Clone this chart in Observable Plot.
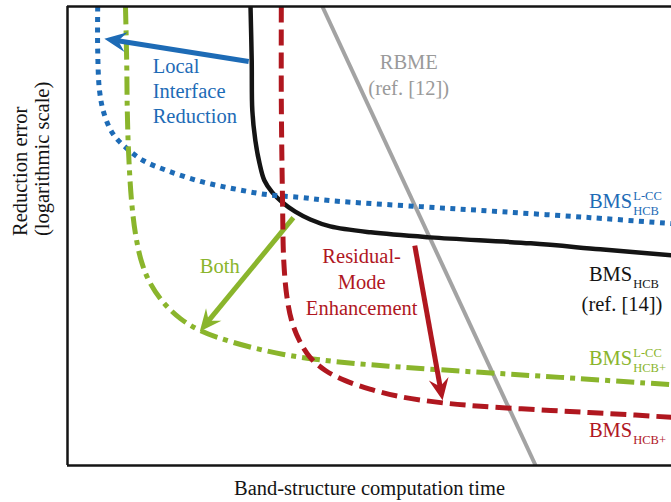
<!DOCTYPE html>
<html>
<head>
<meta charset="utf-8">
<script src="https://cdn.jsdelivr.net/npm/d3@7"></script>
<script src="https://cdn.jsdelivr.net/npm/@observablehq/plot@0.6"></script>
<style>
  html, body { margin: 0; padding: 0; background: #fff; }
  #chart svg { display: block; }
  #chart svg text { font-family: "Liberation Serif", "Times New Roman", serif; }
</style>
</head>
<body>
<div id="chart"></div>
<script>
// Conceptual trade-off curves: reduction error vs. band-structure computation time
// (arbitrary units, 0–100 on both axes)

const bmsHcb = [ // BMS_HCB (ref. [14])
  [30.3, 100], [30.5, 88.2], [30.6, 77.3], [31.1, 70.8], [31.8, 65.8], [32.6, 62.1],
  [33.9, 59.5], [35.6, 57.3], [37.7, 55.3], [40.2, 53.6], [43.5, 52.1], [50.2, 50.8],
  [60.1, 49.7], [76.7, 48.4], [88.2, 47.1], [100, 45.8]
];
const bmsLcc = [ // BMS^{L-CC}_{HCB}
  [5.0, 100], [5.0, 90.4], [5.3, 81.7], [6.0, 76.9], [7.5, 72.3], [9.8, 69.1],
  [12.6, 66.4], [16.6, 64.2], [22.0, 61.9], [27.5, 60.3], [33.1, 59.0], [38.6, 58.4],
  [43.5, 57.7], [58.4, 56.4], [71.7, 55.3], [86.6, 54.0], [100, 52.7]
];
const bmsLccPlus = [ // BMS^{L-CC}_{HCB+}
  [9.6, 100], [9.8, 88.2], [9.9, 77.3], [10.1, 68.6], [10.6, 57.7], [11.3, 50.1],
  [12.3, 44.2], [13.7, 39.7], [15.9, 35.5], [18.7, 32.0], [22.0, 29.4], [27.5, 26.8],
  [35.8, 24.2], [44.0, 22.7], [55.6, 21.4], [68.4, 20.3], [81.6, 19.2], [100, 17.6]
];
const bmsPlus = [ // BMS_{HCB+}
  [35.4, 100], [35.4, 79.5], [35.6, 57.7], [35.8, 44.7], [36.3, 37.0], [37.1, 31.6],
  [38.4, 27.2], [40.2, 23.5], [42.7, 20.7], [46.0, 18.5], [50.2, 16.6], [55.1, 15.0],
  [61.8, 13.7], [68.4, 12.9], [80.0, 12.0], [89.9, 11.3], [100, 10.5]
];
const rbme = [[42.2, 100], [77.5, 0]]; // RBME (ref. [12])

const blue = "#1d6bb6", green = "#8ab52c", red = "#b0171f", gray = "#a3a3a3", ink = "#141414";

// Improvement arrows: from → to
const arrows = [
  {name: "interface", x1: 30.0, y1: 88.0, x2: 6.1, y2: 93.0, color: blue},
  {name: "both", x1: 37.4, y1: 54.0, x2: 21.9, y2: 29.2, color: green},
  {name: "residual", x1: 57.5, y1: 47.9, x2: 62.1, y2: 14.2, color: red}
];

// Multi-line annotations (anchored at the baseline of the last line)
const notes = [
  {text: "Local\nInterface\nReduction", x: 14.1, y: 74.7, color: blue, anchor: "start", lh: 1.22},
  {text: "RBME\n(ref. [12])", x: 56.5, y: 80.8, color: "#9a9a9a", anchor: "middle", lh: 1.27},
  {text: "Both", x: 25.2, y: 42.0, color: green, anchor: "middle", lh: 1.2},
  {text: "Residual-\nMode\nEnhancement", x: 48.7, y: 32.7, color: red, anchor: "middle", lh: 1.29},
  {text: "(ref. [14])", x: 91.8, y: 33.7, color: ink, anchor: "middle", lh: 1.2}
];

// Method names with super-/subscripts
const names = [
  {base: "BMS", sup: "L-CC", sub: "HCB", x: 93.5, y: 56.0, color: blue},
  {base: "BMS", sup: "", sub: "HCB", x: 93.5, y: 40.1, color: ink},
  {base: "BMS", sup: "L-CC", sub: "HCB+", x: 93.5, y: 21.8, color: green},
  {base: "BMS", sup: "", sub: "HCB+", x: 93.5, y: 6.3, color: red}
];

const W = 671, H = 502, mL = 67, mR = 0, mT = 6, mB = 37;
const kx = (W - mL - mR) / 100, ky = (H - mT - mB) / 100;
const heading = d => Math.atan2(-(d.y2 - d.y1) * ky, (d.x2 - d.x1) * kx) * 180 / Math.PI;

// Notched arrowhead pointing along +x with its tip at the origin
const arrowHead = {
  draw(context) {
    context.moveTo(0, 0);
    context.lineTo(-22, -10);
    context.lineTo(-14, 0);
    context.lineTo(-22, 10);
    context.closePath();
  }
};

const font = "Liberation Serif";
const fs = 20.5;

const curve = (data, opts) => Plot.line(data, {x: d => d[0], y: d => d[1], curve: "catmull-rom", strokeLinecap: "butt", ...opts});
const shaft = d => Plot.arrow([d], {x1: "x1", y1: "y1", x2: "x2", y2: "y2", stroke: d.color, strokeWidth: 5, headLength: 0, insetEnd: 12, strokeLinecap: "butt"});
const head = d => Plot.dot([d], {x: "x2", y: "y2", symbol: arrowHead, fill: d.color, stroke: null, rotate: heading(d)});
const label = (data, opts) => Plot.text(data, {fontFamily: font, lineAnchor: "bottom", ...opts});

const chart = Plot.plot({
  width: W, height: H,
  marginLeft: mL, marginRight: mR, marginTop: mT, marginBottom: mB,
  x: {domain: [0, 100], axis: null},
  y: {domain: [0, 100], axis: null},
  style: {fontFamily: font, background: "#fff", overflow: "visible"},
  marks: [
    curve(rbme, {stroke: gray, strokeWidth: 4, curve: "linear"}),
    curve(bmsHcb, {stroke: ink, strokeWidth: 4.5}),
    curve(bmsLcc, {stroke: blue, strokeWidth: 5, strokeDasharray: "5,5.5"}),
    curve(bmsLccPlus, {stroke: green, strokeWidth: 5, strokeDasharray: "18,6,5,6"}),
    shaft(arrows[1]), head(arrows[1]),
    curve(bmsPlus, {stroke: red, strokeWidth: 5, strokeDasharray: "16,7"}),
    shaft(arrows[0]), head(arrows[0]),
    shaft(arrows[2]), head(arrows[2]),

    ...notes.map(n => label([n], {x: "x", y: "y", text: "text", fill: n.color, fontSize: fs,
      textAnchor: n.anchor, lineHeight: n.lh})),
    label(names, {x: "x", y: "y", text: "base", fill: "color", fontSize: fs, textAnchor: "end"}),
    label(names, {x: "x", y: "y", text: "sup", fill: "color", fontSize: 12.5, textAnchor: "start", dx: 1, dy: -8}),
    label(names, {x: "x", y: "y", text: "sub", fill: "color", fontSize: 12.5, textAnchor: "start", dx: 1, dy: 7}),

    // frame: left, bottom and top edges
    Plot.ruleX([0], {stroke: ink, strokeWidth: 2.5}),
    Plot.ruleY([0, 100], {stroke: ink, strokeWidth: 2.5}),

    // axis titles
    label(["Band-structure computation time"], {frameAnchor: "bottom", dy: 29, fontSize: fs, fill: ink}),
    label(["Reduction error\n(logarithmic scale)"], {frameAnchor: "left", dx: -19, rotate: -90, lineHeight: 1.05, fontSize: fs, fill: ink})
  ]
});

document.getElementById("chart").appendChild(chart);
</script>
</body>
</html>
